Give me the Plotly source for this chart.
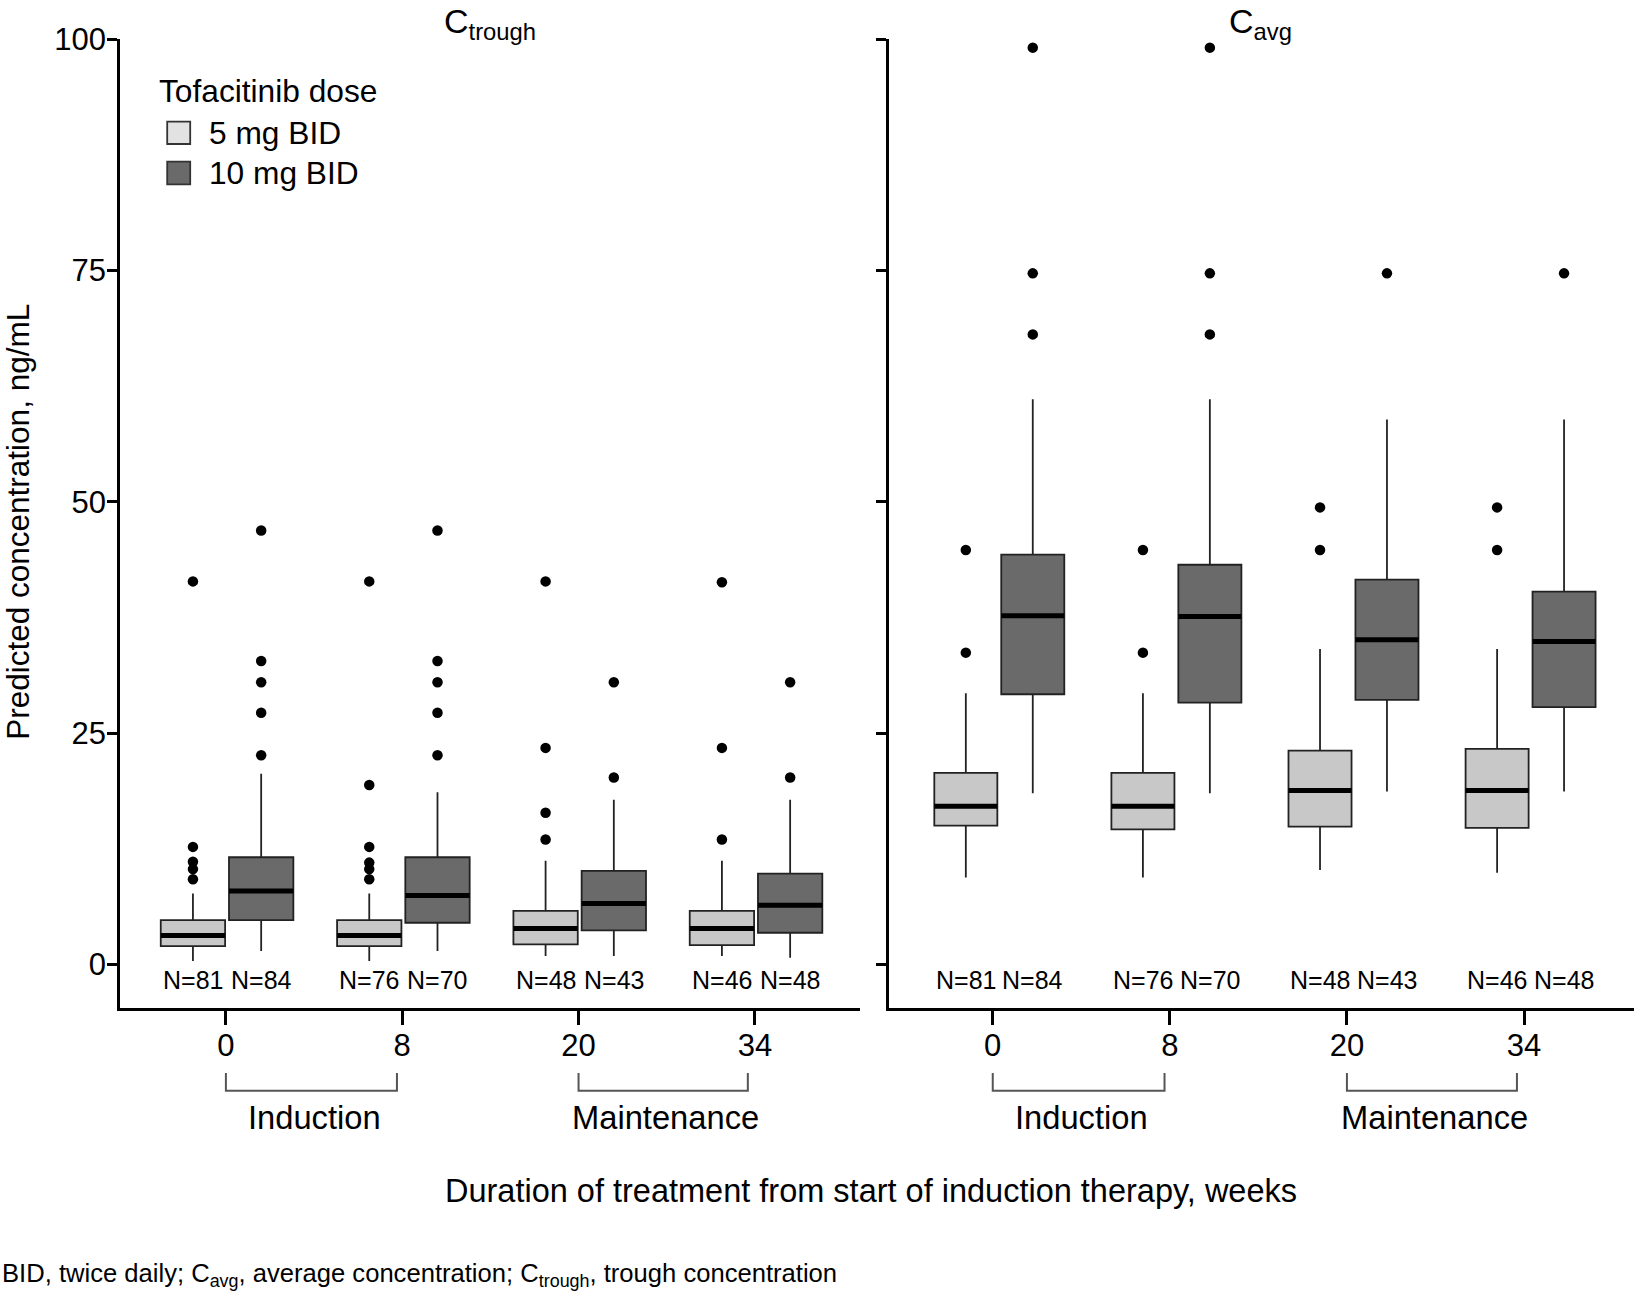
import plotly.graph_objects as go

# ---------------- data ----------------
weeks = ["0", "8", "20", "34"]
doses = ["5 mg BID", "10 mg BID"]
phases = ["Induction", "Maintenance"]
phase_spans = [[0, 0.97], [2, 2.96]]
n_5mg = [81, 76, 48, 46]
n_10mg = [84, 70, 43, 48]

# C_trough, 5 mg BID
ct5_lo = [0.36, 0.36, 0.9, 0.9]
ct5_q1 = [1.98, 1.98, 2.16, 2.09]
ct5_med = [3.13, 3.13, 3.89, 3.89]
ct5_q3 = [4.79, 4.79, 5.79, 5.79]
ct5_hi = [7.66, 7.66, 11.19, 11.19]
ct5_out = [[9.2, 10.3, 11.1, 12.7, 41.4],
           [9.2, 10.3, 11.0, 12.7, 19.4, 41.4],
           [13.5, 16.4, 23.4, 41.4],
           [13.5, 23.4, 41.3]]
# C_trough, 10 mg BID
ct10_lo = [1.44, 1.44, 0.9, 0.72]
ct10_q1 = [4.79, 4.5, 3.67, 3.42]
ct10_med = [7.92, 7.45, 6.58, 6.4]
ct10_q3 = [11.58, 11.58, 10.1, 9.82]
ct10_hi = [20.6, 18.6, 17.8, 17.8]
ct10_out = [[22.6, 27.2, 30.5, 32.8, 46.9],
            [22.6, 27.2, 30.5, 32.8, 46.9],
            [20.2, 30.5],
            [20.2, 30.5]]
# C_avg, 5 mg BID
ca5_lo = [9.4, 9.4, 10.2, 9.9]
ca5_q1 = [15.0, 14.6, 14.9, 14.75]
ca5_med = [17.1, 17.1, 18.8, 18.8]
ca5_q3 = [20.7, 20.7, 23.1, 23.3]
ca5_hi = [29.3, 29.3, 34.1, 34.1]
ca5_out = [[33.7, 44.8], [33.7, 44.8], [44.8, 49.4], [44.8, 49.4]]
# C_avg, 10 mg BID
ca10_lo = [18.5, 18.5, 18.7, 18.7]
ca10_q1 = [29.2, 28.3, 28.6, 27.8]
ca10_med = [37.7, 37.6, 35.1, 34.9]
ca10_q3 = [44.3, 43.2, 41.6, 40.3]
ca10_hi = [61.1, 61.1, 58.9, 58.9]
ca10_out = [[68.1, 74.7, 99.1], [68.1, 74.7, 99.1], [74.7], [74.7]]

# ---------------- style ----------------
FONT = "Liberation Sans, Arial, Helvetica, sans-serif"
W, H = 1634, 1297
fill = {"5 mg BID": "#c8c8c8", "10 mg BID": "#6a6a6a"}
legend_fill = {"5 mg BID": "#e2e2e2", "10 mg BID": "#6a6a6a"}

fig = go.Figure()

panels = [
    dict(xa="x", ya="y", bw=0.365, off={"5 mg BID": -0.187, "10 mg BID": 0.2},
         series={"5 mg BID": (ct5_lo, ct5_q1, ct5_med, ct5_q3, ct5_hi, ct5_out),
                 "10 mg BID": (ct10_lo, ct10_q1, ct10_med, ct10_q3, ct10_hi, ct10_out)}),
    dict(xa="x2", ya="y2", bw=0.356, off={"5 mg BID": -0.152, "10 mg BID": 0.226},
         series={"5 mg BID": (ca5_lo, ca5_q1, ca5_med, ca5_q3, ca5_hi, ca5_out),
                 "10 mg BID": (ca10_lo, ca10_q1, ca10_med, ca10_q3, ca10_hi, ca10_out)}),
]

for pn in panels:
    xa, ya, bw = pn["xa"], pn["ya"], pn["bw"]
    for dose, ns in zip(doses, [n_5mg, n_10mg]):
        lo, q1, med, q3, hi, out = pn["series"][dose]
        pos = [i + pn["off"][dose] for i in range(len(weeks))]
        fig.add_trace(go.Box(
            x=pos, q1=q1, median=med, q3=q3, lowerfence=lo, upperfence=hi,
            width=bw, whiskerwidth=0, boxpoints=False,
            fillcolor=fill[dose], line=dict(color="#222222", width=1.8),
            xaxis=xa, yaxis=ya, showlegend=False, name=dose, hoverinfo="skip"))
        # thick median bars
        mx, my = [], []
        for p, m in zip(pos, med):
            mx += [p - bw / 2, p + bw / 2, None]
            my += [m, m, None]
        fig.add_trace(go.Scatter(x=mx, y=my, mode="lines",
                                 line=dict(color="black", width=5),
                                 xaxis=xa, yaxis=ya, showlegend=False, hoverinfo="skip"))
        # outliers
        ox, oy = [], []
        for p, vals in zip(pos, out):
            ox += [p] * len(vals)
            oy += vals
        fig.add_trace(go.Scatter(x=ox, y=oy, mode="markers",
                                 marker=dict(color="black", size=10.5),
                                 xaxis=xa, yaxis=ya, showlegend=False, hoverinfo="skip"))
        # N labels
        for p, n in zip(pos, ns):
            fig.add_annotation(x=p, y=-1.7, xref=xa, yref=ya, text=f"N={n}",
                               showarrow=False, xanchor="center", yanchor="middle",
                               font=dict(size=25, family=FONT, color="black"))

# ---- legend (drawn in paper space) ----
LEG_FONT = 31.7
fig.add_annotation(x=0.0962, y=0.9298, xref="paper", yref="paper",
                   text="Tofacitinib dose", showarrow=False,
                   xanchor="left", yanchor="middle",
                   font=dict(size=LEG_FONT, family=FONT, color="black"))
leg_rows = [(0.90617, 0.88897, 0.89722), (0.87533, 0.85790, 0.86685)]
for dose, (ytop, ybot, ytxt) in zip(doses, leg_rows):
    fig.add_shape(type="rect", xref="paper", yref="paper",
                  x0=0.10233, x1=0.1164, y0=ybot, y1=ytop,
                  fillcolor=legend_fill[dose], line=dict(color="#333333", width=1.8))
    fig.add_annotation(x=0.1265, y=ytxt, xref="paper", yref="paper",
                       text=dose, showarrow=False, xanchor="left", yanchor="middle",
                       font=dict(size=LEG_FONT, family=FONT, color="black"))

# phase brackets + labels
for xa in ["x", "x2"]:
    for (a, b), ph in zip(phase_spans, phases):
        fig.add_shape(type="path", xref=xa, yref="paper",
                      path=f"M{a},0.1727 L{a},0.1591 L{b},0.1591 L{b},0.1727",
                      line=dict(color="#555555", width=2))
        fig.add_annotation(x=(a + b + 0.03) / 2, y=0.1384, xref=xa, yref="paper",
                           text=ph, showarrow=False, xanchor="center", yanchor="middle",
                           font=dict(size=32.7, family=FONT, color="black"))

# panel titles
fig.add_annotation(x=0.2996, y=1.0, xref="paper", yref="paper",
                   text="C<sub>trough</sub>", showarrow=False,
                   xanchor="center", yanchor="top",
                   font=dict(size=34, family=FONT, color="black"))
fig.add_annotation(x=0.7714, y=1.0, xref="paper", yref="paper",
                   text="C<sub>avg</sub>", showarrow=False,
                   xanchor="center", yanchor="top",
                   font=dict(size=34, family=FONT, color="black"))

# axis titles
fig.add_annotation(x=0.0105, y=0.5978, xref="paper", yref="paper",
                   text="Predicted concentration, ng/mL", textangle=-90,
                   showarrow=False, xanchor="center", yanchor="middle",
                   font=dict(size=31.5, family=FONT, color="black"))
fig.add_annotation(x=0.533, y=0.0821, xref="paper", yref="paper",
                   text="Duration of treatment from start of induction therapy, weeks",
                   showarrow=False, xanchor="center", yanchor="middle",
                   font=dict(size=32.5, family=FONT, color="black"))
# footnote
fig.add_annotation(x=0.0, y=0.017, xref="paper", yref="paper",
                   xanchor="left", yanchor="middle",
                   text="BID, twice daily; C<sub>avg</sub>, average concentration; "
                        "C<sub>trough</sub>, trough concentration",
                   showarrow=False, font=dict(size=25.6, family=FONT, color="black"))

axis_common = dict(showline=True, linecolor="black", linewidth=2.5, ticks="outside",
                   tickwidth=2.5, tickcolor="black", showgrid=False, zeroline=False,
                   automargin=False, tickfont=dict(size=31, family=FONT, color="black"))
yax_common = dict(domain=[0.2230, 0.9697], range=[-4.69, 100], tickmode="array",
                  tickvals=[0, 25, 50, 75, 100], ticklen=10)

fig.update_layout(
    width=W, height=H, margin=dict(l=0, r=0, t=0, b=0, autoexpand=False),
    paper_bgcolor="white", plot_bgcolor="white",
    font=dict(family=FONT, color="black"),
    boxmode="overlay", showlegend=False,
    xaxis=dict(domain=[0.0734, 0.5263], range=[-0.601, 3.596], anchor="y",
               tickmode="array", tickvals=list(range(len(weeks))), ticktext=weeks,
               ticklen=14, ticklabelstandoff=-6, **axis_common),
    xaxis2=dict(domain=[0.5441, 1.0], range=[-0.5855, 3.621], anchor="y2",
                tickmode="array", tickvals=list(range(len(weeks))), ticktext=weeks,
                ticklen=14, ticklabelstandoff=-6, **axis_common),
    yaxis=dict(anchor="x", ticklabelstandoff=-5, **yax_common, **axis_common),
    yaxis2=dict(anchor="x2", showticklabels=False, **yax_common, **axis_common),
)

fig.write_html(
    "out.html",
    config={"displayModeBar": False},
    post_script=("document.body.style.margin='0';"
                 "var gd=document.getElementById('{plot_id}');"
                 "gd.style.position='absolute';gd.style.top='0px';gd.style.left='0px';"),
)
